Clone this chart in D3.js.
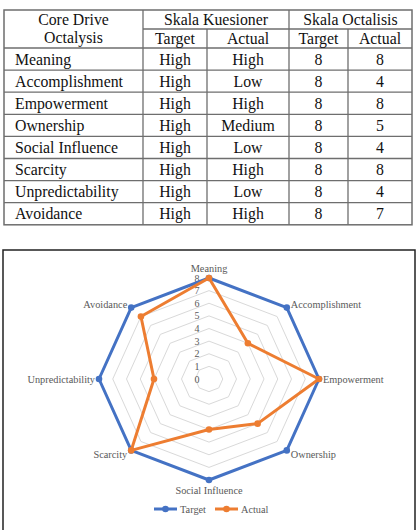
<!DOCTYPE html>
<html lang="en">
<head>
    <meta charset="UTF-8">
    <title>Core Drive Octalysis</title>
    <script src="https://d3js.org/d3.v7.min.js"></script>
    <style>
        body { margin: 0; background: white; }
        svg { display: block; font-family: "Liberation Serif", "Times New Roman", serif; }
        .cell { font-size: 15.8px; fill: #111; }
        .axis-label { font-size: 10.3px; fill: #595959; }
        .tick-label { font-size: 10px; fill: #595959; }
    </style>
</head>
<body>
<svg id="chart" width="416" height="530"></svg>
<script>
    const categories = ["Meaning", "Accomplishment", "Empowerment", "Ownership",
        "Social Influence", "Scarcity", "Unpredictability", "Avoidance"];
    const kuesionerTarget = ["High", "High", "High", "High", "High", "High", "High", "High"];
    const kuesionerActual = ["High", "Low", "High", "Medium", "Low", "High", "Low", "High"];
    const targetValues = [8, 8, 8, 8, 8, 8, 8, 8];
    const actualValues = [8, 4, 8, 5, 4, 8, 4, 7];
    const tickLabels = [0, 1, 2, 3, 4, 5, 6, 7, 8];
    const seriesNames = ["Target", "Actual"];

    const svg = d3.select("#chart");

    // ---- table ----
    const colX = [4, 143, 207, 289, 348, 412];
    const tableTop = 10, headMid = 29, headBottom = 48, rowH = 22.1;
    const tableBottom = headBottom + rowH * categories.length;
    const tbl = svg.append("g");
    const lineColor = "#6e6e6e";

    tbl.append("rect")
        .attr("x", colX[0]).attr("y", tableTop)
        .attr("width", colX[5] - colX[0]).attr("height", tableBottom - tableTop)
        .attr("fill", "none").attr("stroke", lineColor).attr("stroke-width", 1.5);

    // horizontal lines
    tbl.append("line").attr("x1", colX[1]).attr("x2", colX[5])
        .attr("y1", headMid).attr("y2", headMid)
        .attr("stroke", lineColor).attr("stroke-width", 1.3);
    d3.range(categories.length).forEach(i => {
        const y = headBottom + i * rowH;
        tbl.append("line").attr("x1", colX[0]).attr("x2", colX[5])
            .attr("y1", y).attr("y2", y)
            .attr("stroke", lineColor).attr("stroke-width", 1.3);
    });
    // vertical lines
    [1, 3].forEach(k => {
        tbl.append("line").attr("x1", colX[k]).attr("x2", colX[k])
            .attr("y1", tableTop).attr("y2", tableBottom)
            .attr("stroke", lineColor).attr("stroke-width", 1.3);
    });
    [2, 4].forEach(k => {
        tbl.append("line").attr("x1", colX[k]).attr("x2", colX[k])
            .attr("y1", headMid).attr("y2", tableBottom)
            .attr("stroke", lineColor).attr("stroke-width", 1.3);
    });

    const mid = k => (colX[k] + colX[k + 1]) / 2;
    const cellText = (x, y, t, anchor) => tbl.append("text").attr("class", "cell")
        .attr("x", x).attr("y", y).attr("text-anchor", anchor || "middle").text(t);

    cellText(mid(0), 25, "Core Drive");
    cellText(mid(0), 43, "Octalysis");
    cellText((colX[1] + colX[3]) / 2, 24.5, "Skala Kuesioner");
    cellText((colX[3] + colX[5]) / 2, 24.5, "Skala Octalisis");
    [1, 2, 3, 4].forEach(k => cellText(mid(k), 43.5, seriesNames[(k - 1) % 2]));

    categories.forEach((c, i) => {
        const y = headBottom + i * rowH + 16.5;
        cellText(15, y, c, "start");
        cellText(mid(1), y, kuesionerTarget[i]);
        cellText(mid(2), y, kuesionerActual[i]);
        cellText(mid(3), y, targetValues[i]);
        cellText(mid(4), y, actualValues[i]);
    });

    // ---- radar chart ----
    svg.append("rect")
        .attr("x", 3).attr("y", 250).attr("width", 412).attr("height", 290)
        .attr("fill", "white").attr("stroke", "#222").attr("stroke-width", 1.5);

    const cx = 209, cy = 379;
    const rx = d3.scaleLinear().domain([0, 8]).range([0, 110]);
    const ry = d3.scaleLinear().domain([0, 8]).range([0, 101]);
    const angle = d3.scalePoint().domain(categories).range([0, 2 * Math.PI * 7 / 8]);
    const pt = (c, v) => {
        const a = angle(c);
        return [cx + rx(v) * Math.sin(a), cy - ry(v) * Math.cos(a)];
    };
    const radar = d3.line().curve(d3.curveLinearClosed);
    const chart = svg.append("g");

    // grid octagons
    tickLabels.filter(v => v > 0).forEach(v => {
        chart.append("path")
            .attr("d", radar(categories.map(c => pt(c, v))))
            .attr("fill", "none").attr("stroke", "#d9d9d9").attr("stroke-width", 1);
    });

    // tick labels
    chart.selectAll(".tick-label").data(tickLabels).enter().append("text")
        .attr("class", "tick-label")
        .attr("x", cx - 12)
        .attr("y", d => cy - ry(d) + 3.5)
        .attr("text-anchor", "middle")
        .text(d => d);

    const series = [
        { name: "Target", values: targetValues, color: "#4472C4" },
        { name: "Actual", values: actualValues, color: "#ED7D31" }
    ];

    series.forEach(s => {
        const pts = categories.map((c, i) => pt(c, s.values[i]));
        chart.append("path")
            .attr("d", radar(pts))
            .attr("fill", "none").attr("stroke", s.color)
            .attr("stroke-width", 3).attr("stroke-linejoin", "round");
        chart.selectAll(null).data(pts).enter().append("circle")
            .attr("cx", d => d[0]).attr("cy", d => d[1]).attr("r", 3.3)
            .attr("fill", s.color);
    });

    // category labels
    categories.forEach(c => {
        const a = angle(c);
        const s = Math.sin(a), co = Math.cos(a);
        const p = pt(c, 8);
        const anchor = s > 0.1 ? "start" : s < -0.1 ? "end" : "middle";
        const dx = s > 0.1 ? 4 : s < -0.1 ? -4 : 0;
        const dy = co > 0.9 ? -6 : co < -0.9 ? 14 : 4 - 5 * co;
        chart.append("text").attr("class", "axis-label")
            .attr("x", p[0] + dx).attr("y", p[1] + dy)
            .attr("text-anchor", anchor).text(c);
    });

    // legend
    const legend = svg.append("g").attr("transform", "translate(0,509)");
    const legendX = [154, 215];
    series.forEach((s, i) => {
        const g = legend.append("g").attr("transform", `translate(${legendX[i]},0)`);
        g.append("line").attr("x1", 0).attr("x2", 23).attr("y1", 0).attr("y2", 0)
            .attr("stroke", s.color).attr("stroke-width", 3);
        g.append("circle").attr("cx", 11.5).attr("cy", 0).attr("r", 3.3).attr("fill", s.color);
        g.append("text").attr("class", "axis-label")
            .attr("x", 26).attr("y", 3.5).text(s.name);
    });
</script>
</body>
</html>
